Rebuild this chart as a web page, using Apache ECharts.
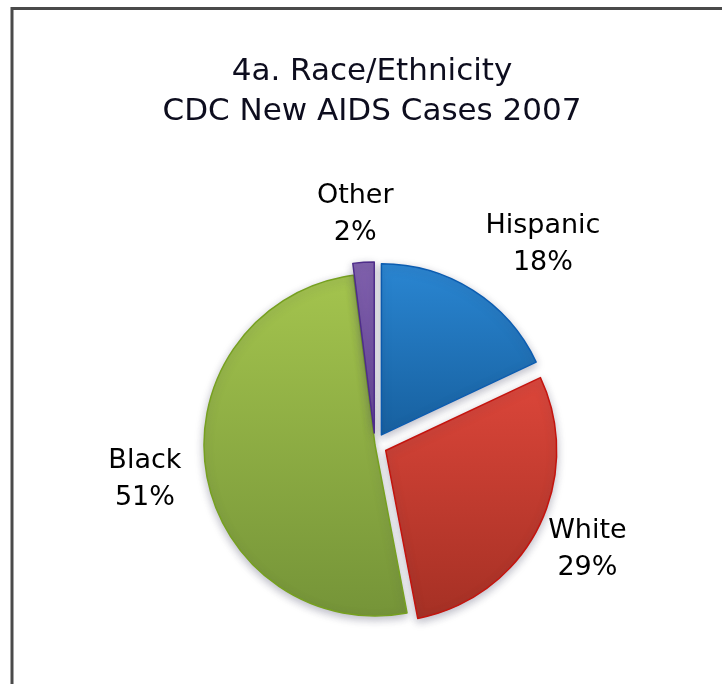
<!DOCTYPE html>
<html>
<head>
<meta charset="utf-8">
<script src="https://cdn.jsdelivr.net/npm/echarts@6/dist/echarts.min.js"></script>
<style>
  html, body { margin: 0; padding: 0; background: #fff; }
  #chart { width: 722px; height: 684px; }
</style>
</head>
<body>
<div id="chart"></div>
<script>
// 数据
const categories = ["Hispanic", "White", "Black", "Other"];
const shares = [18, 29, 51, 2];
const exploded = [true, true, false, true];

// 饼图几何
const CX = 375;
const CY = 445;
const RADIUS = 171;
const OFFSET = 12;
const LABEL_DIST = 235;
// Hispanic 标签在原图中被往右拖了一点
const labelNudge = [[42, -2], [3, -2], [2, -2], [-5, 4]];

const sliceColors = [
  ["#2a86d2", "#17609f", "#0b5cb0"],
  ["#dc463a", "#a53024", "#c4140e"],
  ["#a4c44e", "#759438", "#76a020"],
  ["#8061ad", "#654396", "#4e2d8a"],
];

const total = shares.reduce((a, b) => a + b, 0);

const chart = echarts.init(document.getElementById("chart"));

chart.setOption({
  animation: false,
  title: {
    text: "4a. Race/Ethnicity\nCDC New AIDS Cases 2007",
    left: 372,
    top: 52,
    textAlign: "center",
    padding: 0,
    textStyle: {
      fontFamily: "DejaVu Sans",
      fontSize: 31,
      fontWeight: "normal",
      lineHeight: 40,
      color: "#0d0d1e",
    },
  },
  graphic: [
    {
      type: "rect",
      shape: { x: 12, y: 8.5, width: 900, height: 900 },
      style: { fill: "none", stroke: "#4a4a4a", lineWidth: 3 },
      silent: true,
    },
  ],
  series: [
    {
      // 扇区（分离的块用 selected 偏移）
      type: "pie",
      center: [CX, CY],
      radius: RADIUS,
      startAngle: 90,
      clockwise: true,
      selectedMode: "multiple",
      selectedOffset: OFFSET,
      label: { show: false },
      labelLine: { show: false },
      emphasis: { disabled: true },
      data: categories.map((name, i) => ({
        name,
        value: shares[i],
        selected: exploded[i],
        itemStyle: {
          color: new echarts.graphic.LinearGradient(0, 0, 0, 1, [
            { offset: 0, color: sliceColors[i][0] },
            { offset: 1, color: sliceColors[i][1] },
          ]),
          borderColor: sliceColors[i][2],
          borderWidth: 1.5,
          shadowBlur: 8,
          shadowOffsetY: 3,
          shadowColor: "rgba(60, 60, 90, 0.35)",
        },
      })),
    },
    {
      // 只画标签
      type: "pie",
      center: [CX, CY],
      radius: RADIUS,
      startAngle: 90,
      clockwise: true,
      silent: true,
      avoidLabelOverlap: false,
      itemStyle: { color: "rgba(0,0,0,0)", borderWidth: 0 },
      label: {
        show: true,
        position: "outside",
        formatter: "{b}\n{d}%",
        fontFamily: "DejaVu Sans",
        fontSize: 27,
        lineHeight: 37,
        color: "#000",
      },
      labelLine: { show: false },
      labelLayout: (params) => {
        const i = params.dataIndex;
        let before = 0;
        for (let j = 0; j < i; j++) before += shares[j];
        const mid = ((before + shares[i] / 2) / total) * Math.PI * 2;
        return {
          x: CX + Math.sin(mid) * LABEL_DIST + labelNudge[i][0],
          y: CY - Math.cos(mid) * LABEL_DIST + labelNudge[i][1],
          align: "center",
          verticalAlign: "middle",
        };
      },
      emphasis: { disabled: true },
      data: categories.map((name, i) => ({ name, value: shares[i] })),
    },
  ],
});
</script>
</body>
</html>
